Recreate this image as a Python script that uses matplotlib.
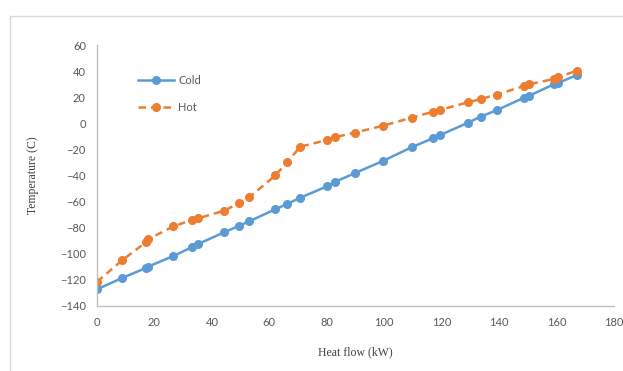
import numpy as np
import matplotlib
matplotlib.use("Agg")
import matplotlib.pyplot as plt
from matplotlib.patches import Rectangle

# ------------------------------------------------------------
# data
# ------------------------------------------------------------
heat_flow = [0, 8.8, 17.0, 17.7, 26.6, 33.0, 35.2, 44.3, 49.3, 53.0,
             62.1, 66.2, 70.8, 80.1, 82.7, 89.7, 99.7, 109.5, 116.9, 119.3,
             129.2, 133.6, 139.1, 148.7, 150.3, 159.0, 160.4, 167.0]
cold_temp = [-127.2, -118.5, -110.9, -109.9, -101.7, -95.0, -92.5, -83.5, -78.7, -75.1,
             -65.9, -61.8, -57.0, -48.3, -45.0, -38.3, -28.7, -18.4, -11.5, -9.2,
             0.5, 5.1, 10.0, 19.6, 20.9, 29.9, 30.7, 37.0]
hot_temp = [-121.5, -104.9, -91.2, -88.9, -79.0, -74.1, -72.8, -67.0, -61.3, -56.7,
            -40.0, -29.7, -17.9, -12.8, -10.7, -7.2, -1.8, 4.3, 8.8, 10.2,
            16.1, 18.6, 21.9, 28.6, 29.9, 33.9, 35.2, 40.3]
x_ticks = [0, 20, 40, 60, 80, 100, 120, 140, 160, 180]
y_ticks = [-140, -120, -100, -80, -60, -40, -20, 0, 20, 40, 60]

W, H = 623, 371
fig = plt.figure(figsize=(W / 100, H / 100), dpi=100)
fig.patch.set_facecolor("white")

# outer chart border (cut by the image edge on right/bottom)
fig.patches.append(Rectangle((9.5 / W, -0.1), 1.2, (H - 15.5) / H + 0.1,
                             transform=fig.transFigure, fill=False,
                             edgecolor="#d9d9d9", lw=1.0))

ax = fig.add_axes([97 / W, 65 / H, (614 - 97) / W, (306 - 45) / H])
blue, orange = "#5B9BD5", "#ED7D31"
ax.plot(heat_flow, cold_temp, "-o", color=blue, lw=1.8, ms=5.5, label="Cold")
ax.plot(heat_flow, hot_temp, "--o", color=orange, lw=1.8, ms=5.5, label="Hot",
        dashes=(3, 2))

ax.set_xlim(0, 180)
ax.set_ylim(-140, 60)
ax.set_xticks(x_ticks)
ax.set_yticks(y_ticks)
for s in ["top", "right"]:
    ax.spines[s].set_visible(False)
for s in ["left", "bottom"]:
    ax.spines[s].set_color("#bfbfbf")
    ax.spines[s].set_linewidth(1.0)
ax.tick_params(length=0, labelsize=8, labelcolor="#595959", pad=8)
for lab in ax.get_xticklabels() + ax.get_yticklabels():
    lab.set_family("Lato")

ax.set_xlabel("Heat flow (kW)", family="Liberation Serif", fontsize=8.5,
              color="#404040", labelpad=13)
ax.set_ylabel("Temperature (C)", family="Liberation Serif", fontsize=8.5,
              color="#404040", labelpad=15)

leg = ax.legend(loc="upper left", bbox_to_anchor=(0.06, 0.923), frameon=False,
                handlelength=3.2, labelspacing=1.4, handletextpad=0.4,
                prop={"family": "Lato", "size": 8})
for t in leg.get_texts():
    t.set_color("#595959")

fig.savefig("out.png", dpi=100)
